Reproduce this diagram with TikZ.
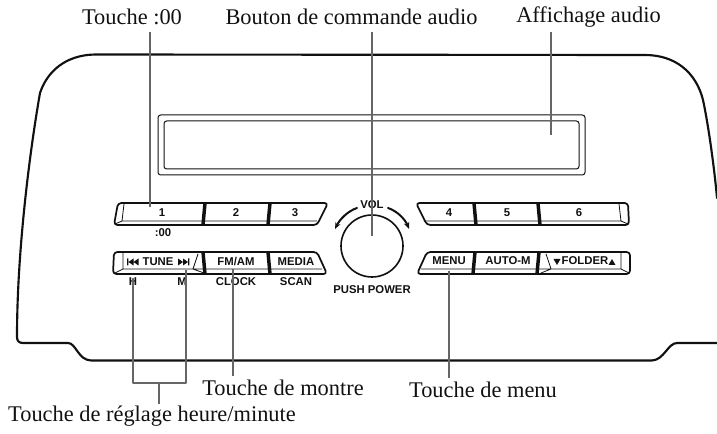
\documentclass[tikz,border=0pt]{standalone}
\usepackage{fontspec}
\setmainfont{Liberation Serif}
\setsansfont{Liberation Sans}
\usetikzlibrary{arrows.meta,calc,positioning}
\definecolor{auInk}{HTML}{111111}
\definecolor{auLeader}{HTML}{666666}
\tikzset{
 radio/.style={line cap=round,line join=round},
 housing/.style={draw=auInk,line width=1.6pt},
 display/.style={draw=auInk,line width=.75pt,rounded corners=2pt},
 keyrow/.style={draw=auInk,line width=1.3pt,rounded corners=2.5pt},
 keysep/.style={draw=auInk,line width=2.6pt,line cap=butt},
 keyline/.style={draw=auInk,line width=.6pt},
 volarc/.style={draw=auInk,line width=1.5pt,-{Stealth[length=5pt,width=4pt]}},
 leader/.style={draw=auLeader,line width=.85pt,line cap=butt},
 callout/.style={font=\fontsize{16.8pt}{18pt}\selectfont,text=auInk,inner sep=0pt},
 keytext/.style={font=\fontsize{8.5pt}{10pt}\selectfont\sffamily\bfseries,text=auInk,inner sep=0pt}
}
\newcommand{\skipPrev}[2]{%
 \begin{scope}[shift={(#1,#2)}]
 \fill[auInk] (0,-3.5) rectangle (1.3,3.5) (1.5,0)--(6.5,-3.5)--(6.5,3.5)--cycle (6.5,0)--(11.5,-3.5)--(11.5,3.5)--cycle;
 \end{scope}}
\newcommand{\skipNext}[2]{%
 \begin{scope}[shift={(#1,#2)}]
 \fill[auInk] (0,-3.5)--(5,0)--(0,3.5)--cycle (5,-3.5)--(10,0)--(5,3.5)--cycle (10,-3.5) rectangle (11.3,3.5);
 \end{scope}}
\begin{document}
\begin{tikzpicture}[radio,x=.75pt,y=-.75pt]
 \useasboundingbox (0,0) rectangle (717,434);
 \draw[housing] (717,198) .. controls (714,165) and (708,123) .. (703,100)
   .. controls (696,72) and (675,55) .. (645,55) -- (95,54.5)
   .. controls (65,55) and (47,72) .. (40,93)
   .. controls (30,150) and (17,250) .. (17,337)
   .. controls (17,341) and (19,343) .. (23,343) -- (68,343)
   .. controls (76,343) and (78,360) .. (91,360.5) -- (652,360.5)
   .. controls (664,360) and (668,343) .. (677,343) -- (717,343);
 \draw[display] (158,115) rectangle (585,175);
 \draw[display] (164,121) rectangle (579,169);
 % upper keys, left
 \draw[keyrow] (118,203)--(328,203)--(317,225)--(114,225)--cycle;
 \draw[keyline] (124,204)--(122,221)--(115,224) (122,221)--(317,221);
 \draw[keysep] (205,203)--(203,225) (270,203)--(268,225);
 % upper keys, right
 \draw[keyrow] (416,203)--(628,203)--(629,225)--(427,225)--cycle;
 \draw[keyline] (424,221)--(621,221)--(628,224) (621,221)--(619,204);
 \draw[keysep] (474,203)--(476,225) (538,203)--(540,225);
 % lower keys, left
 \draw[keyrow] (114,252)--(317,252)--(327,274)--(113,274)--cycle;
 \draw[keyline] (123,253)--(123,269)--(115,273) (123,269)--(322,269) (198,254)--(193,269)--(204,273);
 \draw[keysep] (203,252)--(205,274) (268,252)--(270,274);
 % lower keys, right
 \draw[keyrow] (427,252)--(630,252)--(630,274)--(417,274)--cycle;
 \draw[keyline] (421,269)--(621,269)--(629,273) (621,269)--(621,253) (546,254)--(551,269)--(541,273);
 \draw[keysep] (475,252)--(473,274) (539,252)--(537,274);
 % knob
 \node[circle,draw=auInk,line width=1.2pt,minimum size=46.5pt,inner sep=0pt] (knob) at (372,246) {};
 \draw[volarc] (357,208) .. controls (348,211) and (340,219) .. (335,229);
 \draw[volarc] (388,208) .. controls (397,211) and (405,219) .. (409,229);
 % key labels
 \node[keytext] (k1) at (162,213) {1};
 \node[keytext] (k2) at (236,213) {2};
 \node[keytext] (k3) at (295,213) {3};
 \node[keytext] (k4) at (449,213) {4};
 \node[keytext] (k5) at (507,213) {5};
 \node[keytext] (k6) at (579,213) {6};
 \node[keytext] (k00) at (163,233) {:00};
 \node[keytext] (ktune) at (158,262) {TUNE};
 \skipPrev{127}{262}
 \skipNext{178}{262}
 \node[keytext] (kfm) at (236,262) {FM/AM};
 \node[keytext] (kmedia) at (296,262) {MEDIA};
 \node[keytext] (khour) at (133,282) {H};
 \node[keytext] (kmin) at (182,282) {M};
 \node[keytext] (kclock) at (236,282) {CLOCK};
 \node[keytext] (kscan) at (296,282) {SCAN};
 \node[keytext] (kvol) at (372,205) {VOL};
 \node[keytext] (kpush) at (372,290) {PUSH POWER};
 \node[keytext] (kmenu) at (449,261) {MENU};
 \node[keytext] (kauto) at (508,261) {AUTO-M};
 \node[keytext] (kfolder) at (585,261) {FOLDER};
 \fill[auInk] (553.5,259)--(560.5,259)--(557,265)--cycle (608.5,265)--(615.5,265)--(612,259)--cycle;
 % callouts
 \node[callout] (tzero) at (132,17) {Touche :00};
 \node[callout] (tknob) at (351.5,17) {Bouton de commande audio};
 \node[callout] (tdisp) at (588.5,17) {Affichage audio};
 \node[callout] (tclock) at (283,388) {Touche de montre};
 \node[callout] (tmenu) at (483,390) {Touche de menu};
 \node[callout] (ttune) at (152,416) {Touche de réglage heure/minute};
 \coordinate (azero) at (150,32); \coordinate (bzero) at (150,207);
 \coordinate (aknob) at (372,32); \coordinate (bknob) at (372,236);
 \coordinate (adisp) at (551,32); \coordinate (bdisp) at (551,135);
 \coordinate (hour) at (133,278); \coordinate (hourc) at (133,383);
 \coordinate (minute) at (186,270); \coordinate (minutec) at (186,383);
 \coordinate (tunem) at (159,383); \coordinate (tunee) at (159,404);
 \coordinate (aclock) at (233,269); \coordinate (bclock) at (233,376);
 \coordinate (amenu) at (449,271); \coordinate (bmenu) at (449,378);
 \draw[leader] (azero)--(bzero);
 \draw[leader] (aknob)--(bknob);
 \draw[leader] (adisp)--(bdisp);
 \draw[leader] (hour)--(hourc)--(minutec)--(minute);
 \draw[leader] (tunem)--(tunee);
 \draw[leader] (aclock)--(bclock);
 \draw[leader] (amenu)--(bmenu);
\end{tikzpicture}
\end{document}
